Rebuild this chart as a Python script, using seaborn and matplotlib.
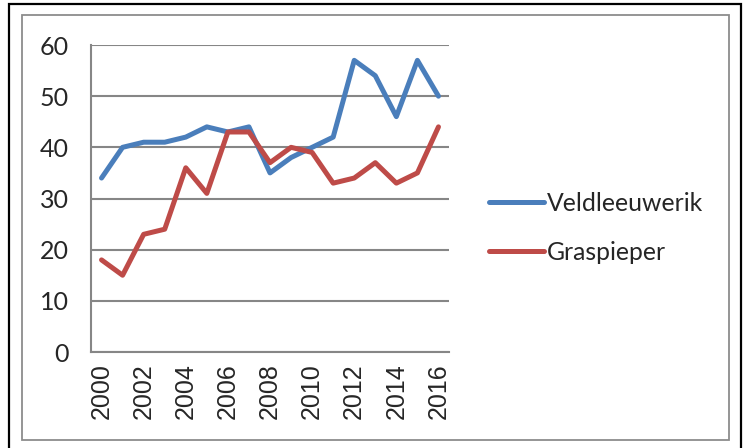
import matplotlib
matplotlib.use("Agg")
import matplotlib.pyplot as plt
import matplotlib.ticker as mticker
from matplotlib.patches import Rectangle
import pandas as pd
import seaborn as sns

# --- data ---
years = list(range(2000, 2017))
veldleeuwerik = [34, 40, 41, 41, 42, 44, 43, 44, 35, 38, 40, 42, 57, 54, 46, 57, 50]
graspieper = [18, 15, 23, 24, 36, 31, 43, 43, 37, 40, 39, 33, 34, 37, 33, 35, 44]
series_names = ["Veldleeuwerik", "Graspieper"]
series_colors = ["#4A7EBB", "#BE4B48"]
y_ticks = [0, 10, 20, 30, 40, 50, 60]

df = pd.DataFrame({
    "jaar": years * 2,
    "aantal": veldleeuwerik + graspieper,
    "soort": [series_names[0]] * len(years) + [series_names[1]] * len(years),
})

sns.set_style("white")
plt.rcParams["font.family"] = ["Lato", "DejaVu Sans"]

W, H = 747, 448
fig = plt.figure(figsize=(W / 100, H / 100), dpi=100)
ax = fig.add_axes([91 / W, 1 - 352 / H, (449 - 91) / W, (352 - 45) / H])

sns.lineplot(data=df, x="jaar", y="aantal", hue="soort", palette=series_colors,
             linewidth=3.6, ax=ax, legend=True, solid_capstyle="round")

grid_c = "#868686"
ax.set_xlim(years[0] - 0.5, years[-1] + 0.5)
ax.set_ylim(y_ticks[0], y_ticks[-1])
ax.set_yticks(y_ticks)
ax.yaxis.grid(True, color=grid_c, linewidth=1.5)
ax.set_axisbelow(True)
for s in ["top", "right"]:
    ax.spines[s].set_visible(False)
for s in ["left", "bottom"]:
    ax.spines[s].set_color(grid_c)
    ax.spines[s].set_linewidth(1.5)

ax.set_xticks([y for y in years if y % 2 == 0])
ax.xaxis.set_minor_locator(mticker.FixedLocator([y - 0.5 for y in years] + [years[-1] + 0.5]))
ax.tick_params(axis="x", which="major", length=0, pad=8, labelsize=18,
               labelrotation=90)
ax.tick_params(axis="x", which="minor", length=5, width=1.5, color=grid_c, direction="out")
ax.tick_params(axis="y", length=6, width=1.5, color=grid_c, direction="out",
               pad=10, labelsize=18)
for lab in ax.get_xticklabels():
    lab.set_family(["Liberation Sans", "DejaVu Sans"])
ax.set_xlabel("")
ax.set_ylabel("")

handles, labels = ax.get_legend_handles_labels()
ax.legend(handles, labels, loc="center left", bbox_to_anchor=(467 / W, 1 - 228 / H),
          bbox_transform=fig.transFigure, frameon=False, fontsize=17.8,
          handlelength=2.2, handletextpad=0.15, labelspacing=1.05)

# chart frames
fig.patches.append(Rectangle((21.5 / W, 1 - 440 / H), (729 - 21.5) / W, (440 - 15.5) / H,
                             transform=fig.transFigure, fill=False,
                             edgecolor="#8C8C8C", linewidth=1.3))
fig.patches.append(Rectangle((8.5 / W, -0.1), (741 - 8.5) / W, 1.1 - 4.5 / H,
                             transform=fig.transFigure, fill=False,
                             edgecolor="black", linewidth=1.6))

fig.savefig("out.png", dpi=100)
